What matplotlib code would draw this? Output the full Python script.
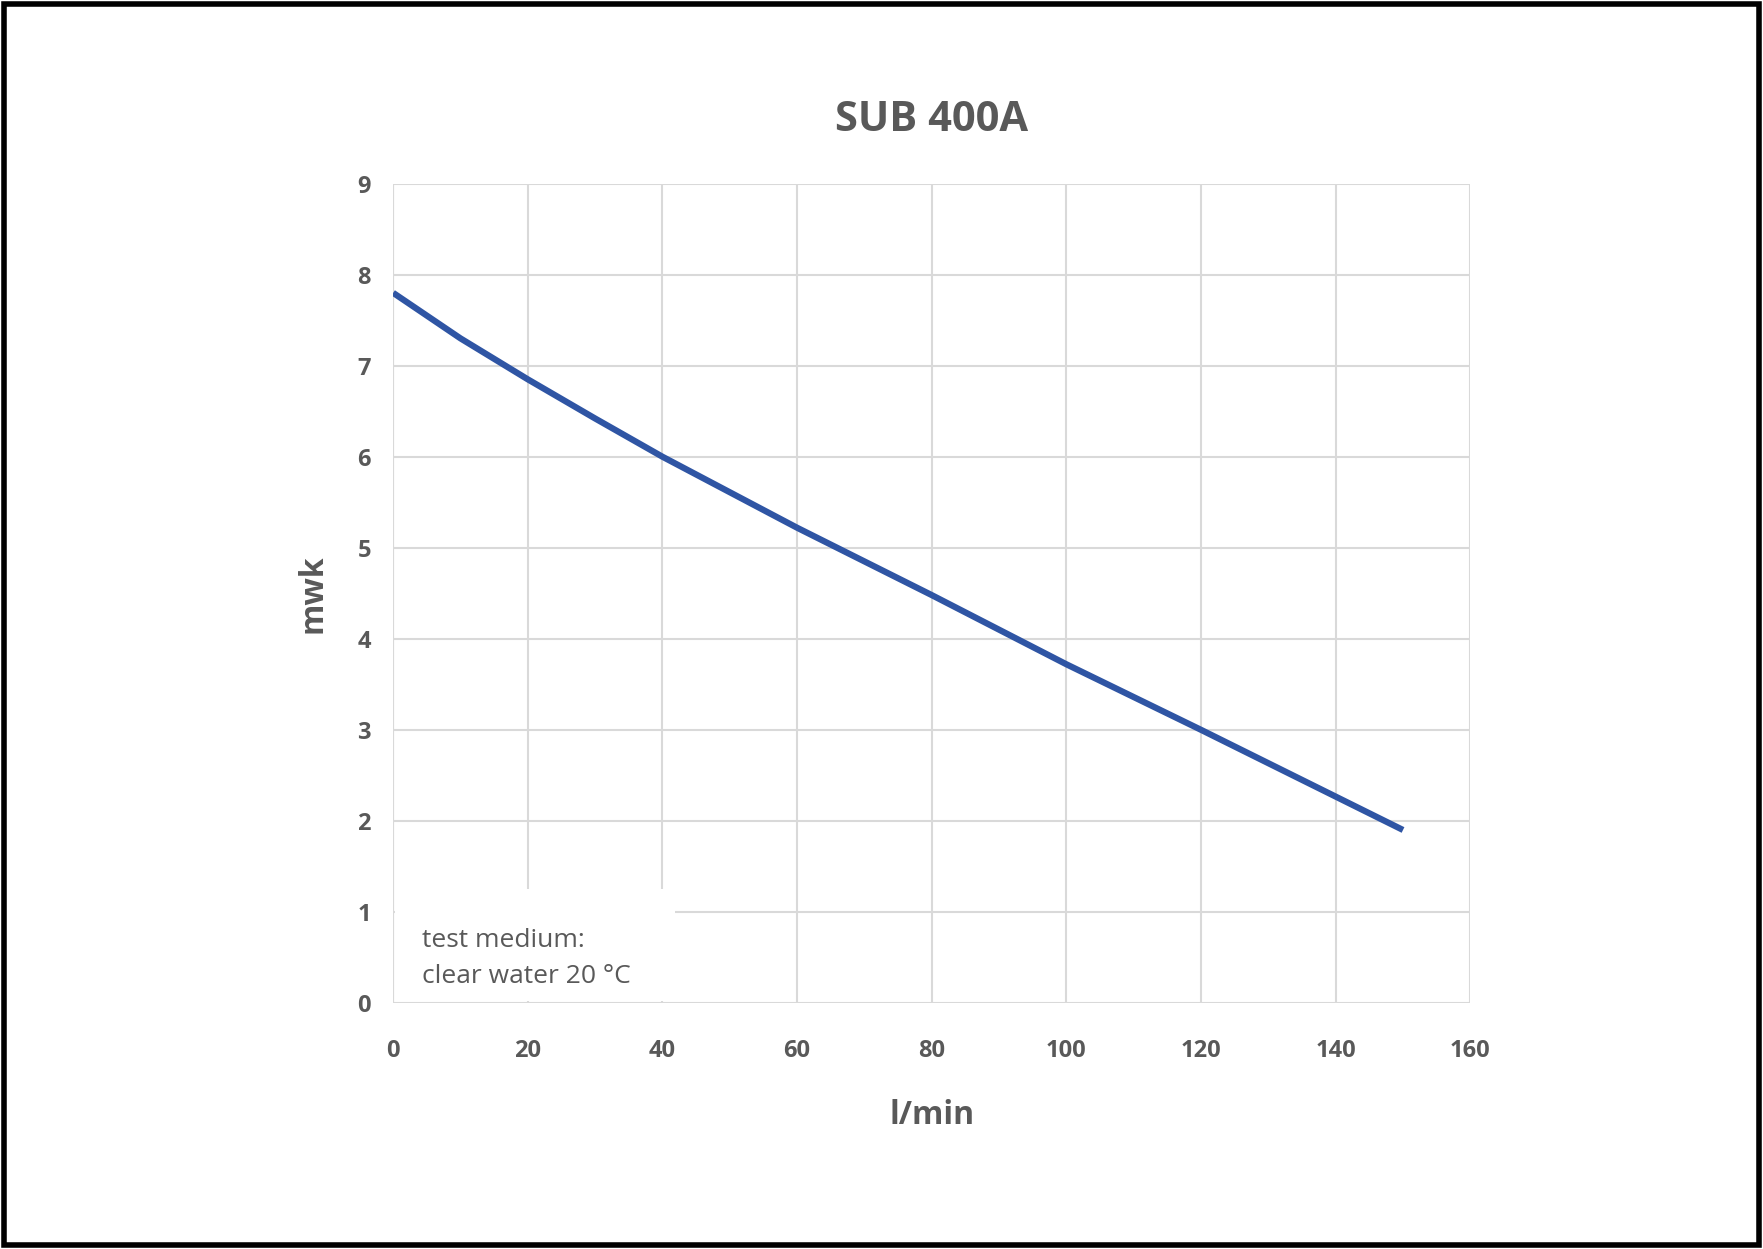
import matplotlib
matplotlib.use("Agg")
import matplotlib.pyplot as plt
from matplotlib.patches import Rectangle

flow = [0, 10, 20, 30, 40, 60, 80, 100, 120, 150]
head = [7.8, 7.3, 6.85, 6.42, 6.0, 5.22, 4.48, 3.72, 3.0, 1.9]
x_ticks = [0, 20, 40, 60, 80, 100, 120, 140, 160]
y_ticks = list(range(10))

GREY = "#595959"
plt.rcParams["font.family"] = ["Open Sans", "DejaVu Sans"]

fig = plt.figure(figsize=(17.63, 12.49), dpi=100)
ax = fig.add_axes([0.223, 0.197, 0.611, 0.656])

ax.plot(flow, head, color="#2f55a4", linewidth=4.5, solid_capstyle="butt", zorder=3)
ax.set_xlim(0, 160)
ax.set_ylim(0, 9)
ax.set_xticks(x_ticks)
ax.set_yticks(y_ticks)
ax.grid(True, color="#d9d9d9", linewidth=1.5)
for s in ax.spines.values():
    s.set_visible(False)
ax.tick_params(length=0, labelsize=17, labelcolor=GREY)
ax.tick_params(axis="x", pad=26)
ax.tick_params(axis="y", pad=16)
for lab in ax.get_xticklabels() + ax.get_yticklabels():
    lab.set_fontweight("bold")
ax.axvline(0, color="#d9d9d9", linewidth=1.5)

ax.set_xlabel("l/min", fontsize=23, color=GREY, labelpad=26, fontweight="bold")
ax.set_ylabel("mwk", fontsize=23, color=GREY, labelpad=20, fontweight="bold")
ax.set_title("SUB 400A", fontsize=30, color=GREY, pad=38, fontweight="bold")

# white note box covering the grid
ax.add_patch(Rectangle((0.3, 0.02), 41.5, 1.23, facecolor="white",
                       edgecolor="none", zorder=4))
ax.text(4.3, 0.22, "test medium:\nclear water 20 °C", fontsize=19,
        color=GREY, linespacing=1.6, zorder=5)

fig.add_artist(Rectangle((0.002, 0.003), 0.996, 0.994, transform=fig.transFigure,
                         fill=False, edgecolor="black", linewidth=4))
fig.savefig("out.png", dpi=100, facecolor="white")
